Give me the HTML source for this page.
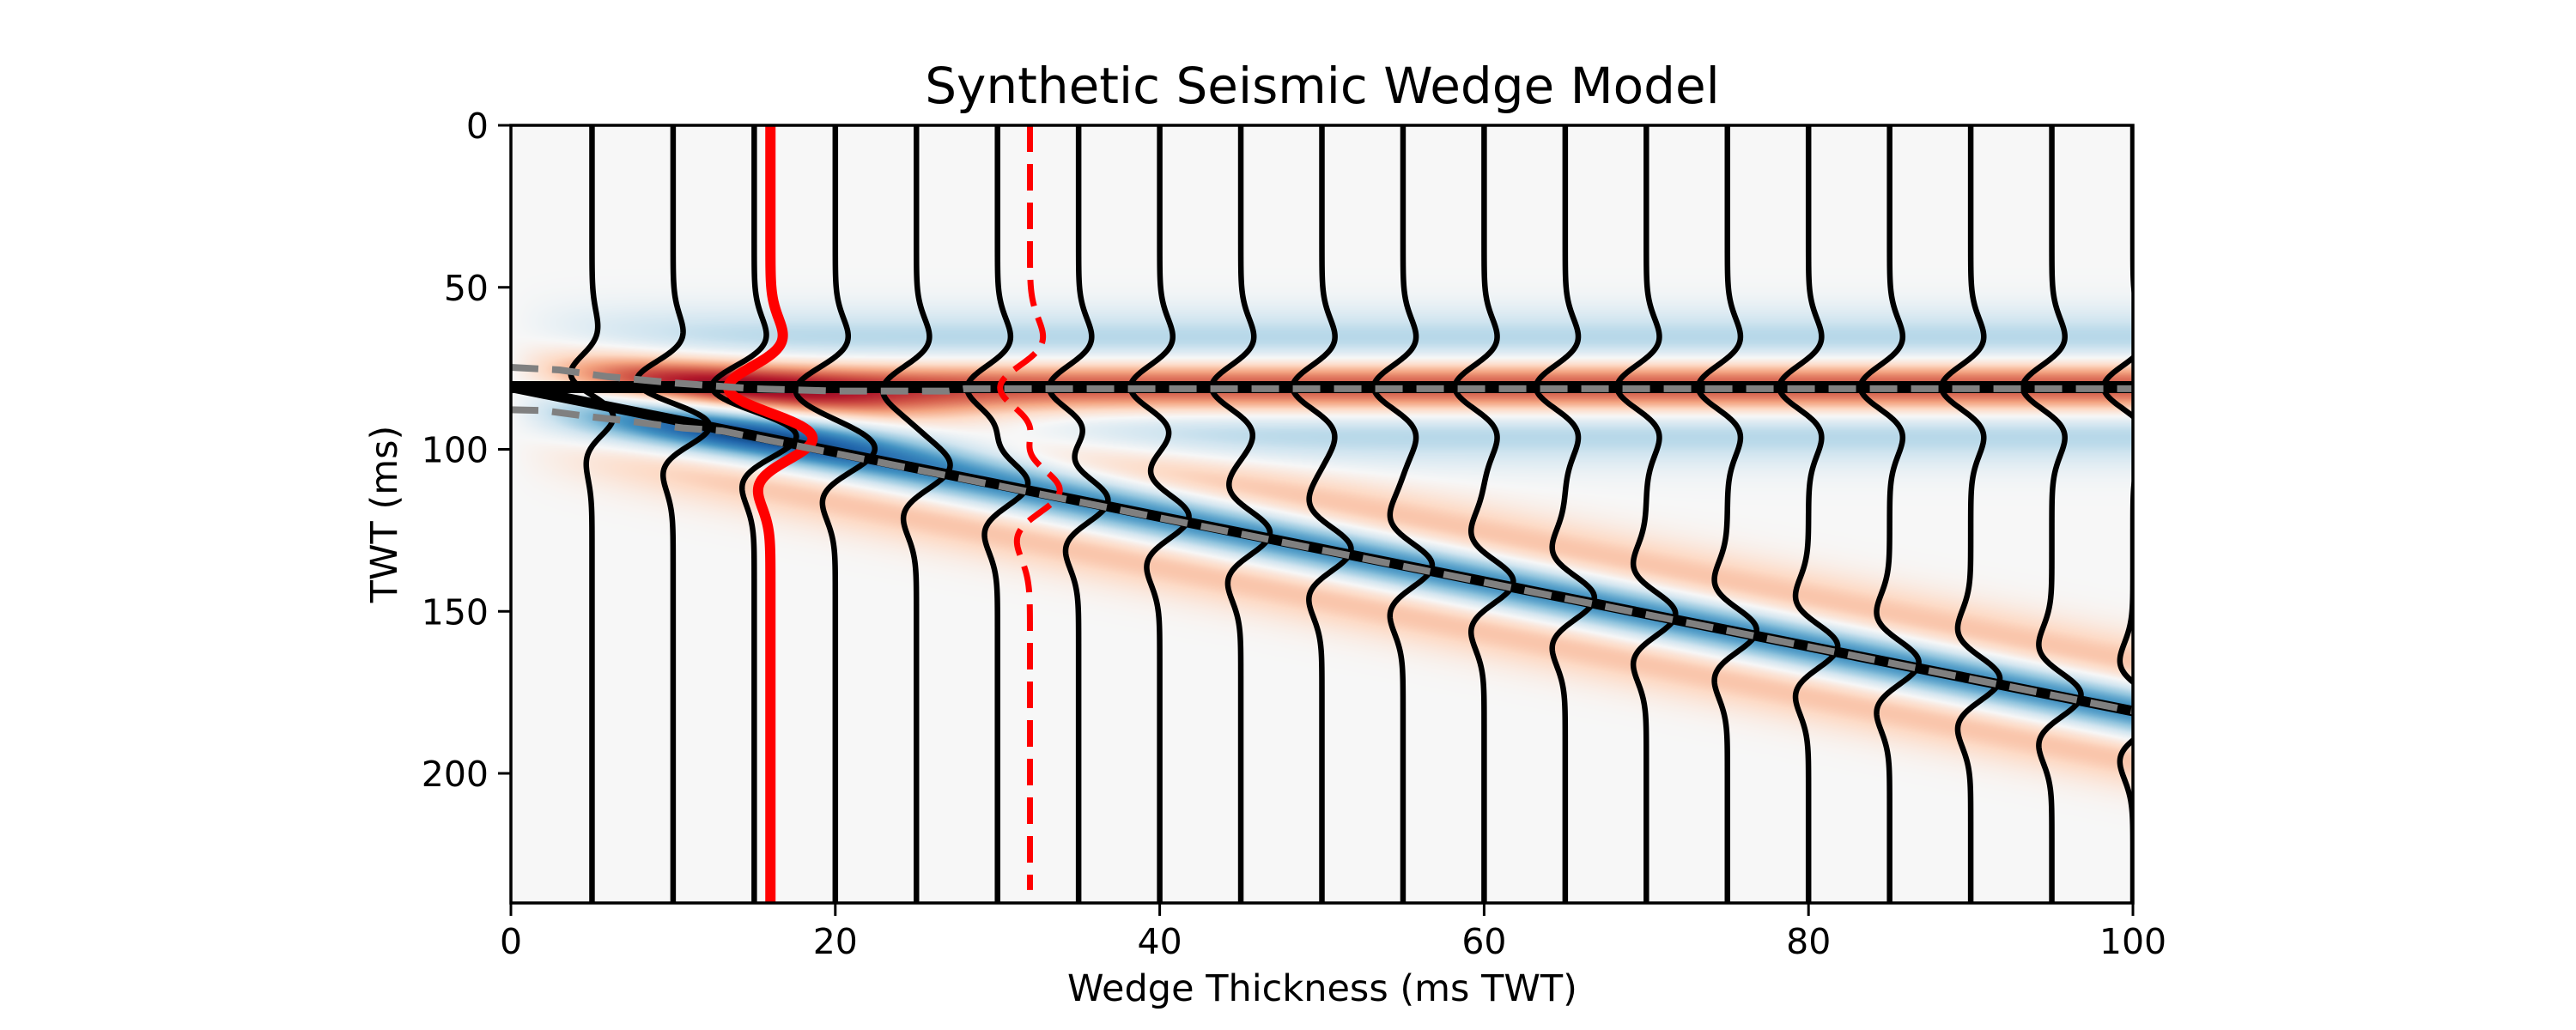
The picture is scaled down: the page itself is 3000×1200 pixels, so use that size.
<!DOCTYPE html>
<html><head><meta charset="utf-8">
<style>
html,body{margin:0;padding:0;background:#fff;}
#wrap{position:relative;width:3000px;height:1200px;overflow:hidden;}
canvas{position:absolute;left:0;top:0;}
svg{position:absolute;left:0;top:0;}
text{font-family:"DejaVu Sans","Liberation Sans",sans-serif;fill:#000;}
</style></head>
<body>
<div id="wrap">
<canvas id="heat" width="3000" height="1200"></canvas>
<svg id="svg" width="3000" height="1200" xmlns="http://www.w3.org/2000/svg">
  <defs><clipPath id="clip"><rect x="595" y="146" width="1889" height="906"/></clipPath></defs>
  <g id="marks" clip-path="url(#clip)"></g>
  <g id="axes"></g>
  <text x="1540" y="120" font-size="58" text-anchor="middle">Synthetic Seismic Wedge Model</text>
  <text x="1540" y="1166" font-size="43" text-anchor="middle">Wedge Thickness (ms TWT)</text>
  <text x="0" y="0" font-size="43" text-anchor="middle" transform="translate(462,599) rotate(-90)">TWT (ms)</text>
</svg>
</div>
<script>
// ---- data ----
const traceThickness = [5,10,15,20,25,30,35,40,45,50,55,60,65,70,75,80,85,90,95,100];
const tuningThickness = [16];
const doubleTuningThickness = [32];
const topTime = [80.8];
const waveletFreqHz = [25];
const traceGain = [1.8];
const colorVmax = [1.6];
const xTicks = [0,20,40,60,80,100];
const yTicks = [0,50,100,150,200];
const upperPickX = [0,3,6,10,15,20,27,28,100];
const upperPickT = [74.7,75.5,77.6,79.5,81.3,82,82,81.3,81.3];
const lowerPickX = [0,2,5,7,10.6,13];
const lowerPickT = [87.8,88,90,91.1,93.4,94.3];

// ---- scales ----
const X0=595,X1=2484,Y0=146,Y1=1052,XMAX=100,TMAX=240;
const sx=v=>X0+(X1-X0)*v/XMAX;
const sy=t=>Y0+(Y1-Y0)*t/TMAX;
const NS='http://www.w3.org/2000/svg';
function ricker(tms){const a=Math.PI*waveletFreqHz[0]*tms/1000;const a2=a*a;return (1-2*a2)*Math.exp(-a2);}
function synth(th,t){const top=topTime[0];return -ricker(t-top)+ricker(t-top-th);}

const RdBu=[[103,0,31],[178,24,43],[214,96,77],[244,165,130],[253,219,199],[247,247,247],[209,229,240],[146,197,222],[67,147,195],[33,102,172],[5,48,97]];
function cmap(v){v=Math.max(0,Math.min(1,v));const p=v*10;const i=Math.min(9,Math.floor(p));const f=p-i;const a=RdBu[i],b=RdBu[i+1];return [a[0]+(b[0]-a[0])*f,a[1]+(b[1]-a[1])*f,a[2]+(b[2]-a[2])*f];}

(function(){
  const c=document.getElementById('heat');const ctx=c.getContext('2d');
  const w=X1-X0,h=Y1-Y0;const img=ctx.createImageData(w,h);const vm=colorVmax[0];
  for(let px=0;px<w;px++){
    const th=XMAX*(px+0.5)/w;
    for(let py=0;py<h;py++){
      const t=TMAX*(py+0.5)/h;const a=synth(th,t);
      const col=cmap((a/vm+1)/2);const k=(py*w+px)*4;
      img.data[k]=col[0];img.data[k+1]=col[1];img.data[k+2]=col[2];img.data[k+3]=255;
    }
  }
  ctx.putImageData(img,X0,Y0);
})();

const marks=document.getElementById('marks');
function mk(tag,attrs){const e=document.createElementNS(NS,tag);for(const k in attrs)e.setAttribute(k,attrs[k]);return e;}
function tracePath(th,tEnd){let d='';for(let t=0;t<=tEnd;t+=0.5){const x=sx(th+traceGain[0]*synth(th,t));d+=(t===0?'M':'L')+x.toFixed(2)+','+sy(t).toFixed(2);}return d;}

const topLine=mk('line',{x1:sx(0),y1:sy(topTime[0]),x2:sx(XMAX),y2:sy(topTime[0]),stroke:'#000','stroke-width':14});


marks.appendChild(topLine);
const baseLine=mk('line',{x1:sx(0),y1:sy(topTime[0]),x2:sx(XMAX),y2:sy(topTime[0]+XMAX),stroke:'#000','stroke-width':12});


marks.appendChild(baseLine);

traceThickness.forEach(th=>{
  const p=mk('path',{d:tracePath(th,TMAX),fill:'none',stroke:'#000','stroke-width':6.5,'stroke-linejoin':'round'});
  
  
  marks.appendChild(p);
});
tuningThickness.forEach(th=>{
  const p=mk('path',{d:tracePath(th,TMAX),fill:'none',stroke:'#ff0000','stroke-width':12,'stroke-linejoin':'round'});
  
  
  marks.appendChild(p);
});
doubleTuningThickness.forEach(th=>{
  const p=mk('path',{d:tracePath(th,236),fill:'none',stroke:'#ff0000','stroke-width':7,'stroke-dasharray':'31,14'});
  
  
  marks.appendChild(p);
});
(function(){
  let d='';upperPickX.forEach((x,i)=>{d+=(i?'L':'M')+sx(x).toFixed(1)+','+sy(upperPickT[i]).toFixed(1);});
  const p=mk('path',{d:d,fill:'none',stroke:'#808080','stroke-width':8,'stroke-dasharray':'32,16'});
  
  
  marks.appendChild(p);
  let d2='';lowerPickX.forEach((x,i)=>{d2+=(i?'L':'M')+sx(x).toFixed(1)+','+sy(lowerPickT[i]).toFixed(1);});
  d2+='L'+sx(XMAX).toFixed(1)+','+sy(topTime[0]+XMAX).toFixed(1);
  const q=mk('path',{d:d2,fill:'none',stroke:'#808080','stroke-width':8,'stroke-dasharray':'32,16'});
  
  
  marks.appendChild(q);
})();

const axes=document.getElementById('axes');
const frame=mk('rect',{x:X0,y:Y0,width:X1-X0,height:Y1-Y0,fill:'none',stroke:'#000','stroke-width':3.5});


axes.appendChild(frame);
xTicks.forEach(v=>{
  const l=mk('line',{x1:sx(v),y1:Y1,x2:sx(v),y2:Y1+15,stroke:'#000','stroke-width':3});
  
  
  axes.appendChild(l);
  const t=mk('text',{x:sx(v),y:1111,'font-size':41,'text-anchor':'middle'});t.textContent=v;
  
  
  axes.appendChild(t);
});
yTicks.forEach(v=>{
  const l=mk('line',{x1:X0-15,y1:sy(v),x2:X0,y2:sy(v),stroke:'#000','stroke-width':3});
  
  
  axes.appendChild(l);
  const t=mk('text',{x:X0-26,y:sy(v)+15,'font-size':41,'text-anchor':'end'});t.textContent=v;
  
  
  axes.appendChild(t);
});
</script>
</body></html>
